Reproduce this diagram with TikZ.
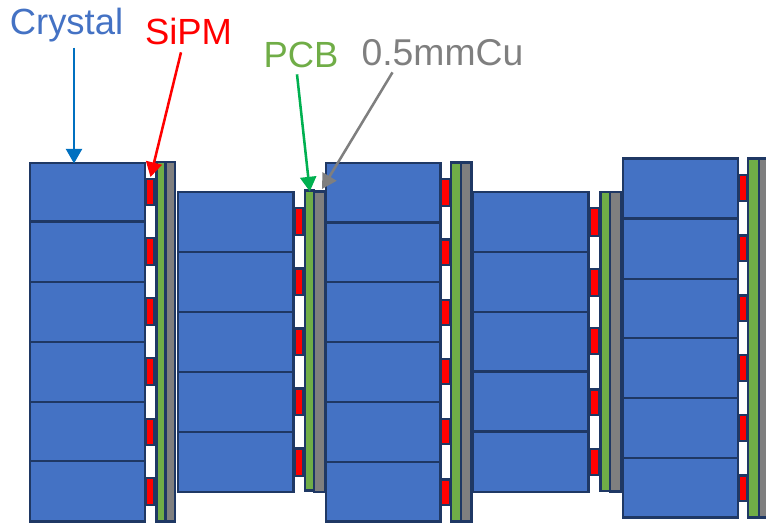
\documentclass[tikz,border=0pt]{standalone}
\usepackage{fontspec}
\setmainfont{Liberation Sans}
\usetikzlibrary{arrows.meta,calc}
\definecolor{cDark}{HTML}{1F3864}
\definecolor{cBlue}{HTML}{4472C4}
\definecolor{cGreen}{HTML}{70AD47}
\definecolor{cGrey}{HTML}{7F7F7F}
\definecolor{cArrowBlue}{HTML}{0070C0}
\definecolor{cArrowGreen}{HTML}{00B050}
\tikzset{
  part/.style={draw=cDark,line width=2pt,inner sep=0pt,outer sep=0pt},
  crystal/.style={part,fill=cBlue},
  sipm/.style={part,fill=red},
  pcb/.style={part,fill=cGreen},
  copper/.style={part,fill=cGrey},
  lbl/.style={anchor=base,inner sep=0pt,outer sep=0pt,font=\fontsize{27.3}{32}\selectfont},
  arr/.style={line width=1.9pt,-{Triangle[width=12pt,length=11pt]}}
}
\newcommand{\bx}[6]{%
  \pgfmathsetlengthmacro{\bxw}{(#5-#3)*0.75pt}%
  \pgfmathsetlengthmacro{\bxh}{(#6-#4)*0.75pt}%
  \node[#1,minimum width=\bxw,minimum height=\bxh] (#2) at ({(#3+#5)/2},{(#4+#6)/2}) {};%
}
\begin{document}
\begin{tikzpicture}[x=0.75pt,y=-0.75pt]
\useasboundingbox (0,0) rectangle (766,523);
\clip (0,0) rectangle (766,523);

% Column 1
\bx{crystal}{ca}{30}{163}{145}{221.5}
\bx{crystal}{cb}{30}{221.5}{145}{282}
\bx{crystal}{cc}{30}{282}{145}{342}
\bx{crystal}{cd}{30}{342}{145}{402}
\bx{crystal}{ce}{30}{402}{145}{461}
\bx{crystal}{cf}{30}{461}{145}{521.5}
\bx{sipm}{sa}{145.5}{179}{154.5}{205}
\bx{sipm}{sb}{145.5}{238}{154.5}{265}
\bx{sipm}{sc}{145.5}{298}{154.5}{325}
\bx{sipm}{sd}{145.5}{358}{154.5}{385}
\bx{sipm}{se}{145.5}{419}{154.5}{445}
\bx{sipm}{sf}{145.5}{478}{154.5}{505}
\bx{pcb}{pa}{156.3}{162}{165.7}{521.5}
\bx{copper}{ga}{165.7}{162}{175}{521.5}

% Column 2
\bx{crystal}{da}{178}{192}{293.5}{252}
\bx{crystal}{db}{178}{252}{293.5}{312}
\bx{crystal}{dc}{178}{312}{293.5}{372}
\bx{crystal}{dd}{178}{372}{293.5}{432}
\bx{crystal}{de}{178}{432}{293.5}{492}
\bx{sipm}{ta}{294.7}{208}{303.3}{235}
\bx{sipm}{tb}{294.7}{268.5}{303.3}{295}
\bx{sipm}{tc}{294.7}{328.5}{303.3}{355}
\bx{sipm}{td}{294.7}{388.5}{303.3}{415}
\bx{sipm}{te}{294.7}{448.5}{303.3}{476}
\bx{pcb}{pb}{305}{190.5}{314}{490.5}
\bx{copper}{gb}{314}{191.5}{325}{492}

% Column 3
\bx{crystal}{ea}{326}{163}{440.5}{222.5}
\bx{crystal}{eb}{326}{222.5}{440.5}{282}
\bx{crystal}{ec}{326}{282}{440.5}{342}
\bx{crystal}{ed}{326}{342}{440.5}{402}
\bx{crystal}{ee}{326}{402}{440.5}{462}
\bx{crystal}{ef}{326}{462}{440.5}{521.5}
\bx{sipm}{ua}{441}{179}{450}{206}
\bx{sipm}{ub}{441}{239.5}{450}{265}
\bx{sipm}{uc}{441}{300}{450}{325}
\bx{sipm}{ud}{441}{359}{450}{384}
\bx{sipm}{ue}{441}{419}{450}{444}
\bx{sipm}{uf}{441}{479.5}{450}{505}
\bx{pcb}{pc}{451}{162.5}{461}{521.5}
\bx{copper}{gc}{461}{162.5}{471.5}{521.5}

% Column 4
\bx{crystal}{fa}{473}{192}{588.5}{252}
\bx{crystal}{fb}{473}{252}{588.5}{312}
\bx{crystal}{fc}{473}{312}{588.5}{371.5}
\bx{crystal}{fd}{473}{371.5}{588.5}{431.5}
\bx{crystal}{fe}{473}{431.5}{588.5}{492}
\bx{sipm}{va}{589.7}{208}{599.3}{236}
\bx{sipm}{vb}{589.7}{269}{599.3}{296}
\bx{sipm}{vc}{589.7}{328}{599.3}{354}
\bx{sipm}{vd}{589.7}{389.5}{599.3}{415}
\bx{sipm}{ve}{589.7}{449}{599.3}{475}
\bx{pcb}{pd}{600.5}{192}{610}{491}
\bx{copper}{gd}{610}{192}{621}{491.5}

% Column 5
\bx{crystal}{ha}{623}{158.5}{738}{218.7}
\bx{crystal}{hb}{623}{218.7}{738}{279}
\bx{crystal}{hc}{623}{279}{738}{338}
\bx{crystal}{hd}{623}{338}{738}{398}
\bx{crystal}{he}{623}{398}{738}{458}
\bx{crystal}{hf}{623}{458}{738}{517.5}
\bx{sipm}{wa}{738.5}{175}{747}{201}
\bx{sipm}{wb}{738.5}{235.5}{747}{261}
\bx{sipm}{wc}{738.5}{295.5}{747}{321}
\bx{sipm}{wd}{738.5}{355}{747}{381}
\bx{sipm}{we}{738.5}{415}{747}{441}
\bx{sipm}{wf}{738.5}{475.5}{747}{501}
\bx{pcb}{pe}{748}{158.5}{759}{517.5}
\bx{copper}{ge}{759}{158.5}{772}{517.5}

% Labels
\node[lbl,text=cBlue] (lblCrystal) at (66.5,35) {Crystal};
\node[lbl,text=red] (lblSiPM) at (188.5,45) {SiPM};
\node[lbl,text=cGreen] (lblPCB) at (301,68) {PCB};
\node[lbl,text=cGrey,font=\fontsize{28}{32}\selectfont] (lblCu) at (442.5,66) {0.5mmCu};

% Connector ends
\coordinate (tipCrystal) at (74,163.5);
\coordinate (tipSiPM) at (150.5,177);
\coordinate (tipPCB) at (309.8,191.5);
\coordinate (tipCu) at (322,189);

% Connectors
\draw[arr,cArrowBlue] ($(lblCrystal.south)+(7.5,5)$) -- (tipCrystal);
\draw[arr,red] ($(lblSiPM.south)+(-7.5,7)$) -- (tipSiPM);
\draw[arr,cArrowGreen] ($(lblPCB.south)+(-4,6)$) -- (tipPCB);
\draw[arr,cGrey] ($(lblCu.south)+(-50,6)$) -- (tipCu);
\end{tikzpicture}
\end{document}
